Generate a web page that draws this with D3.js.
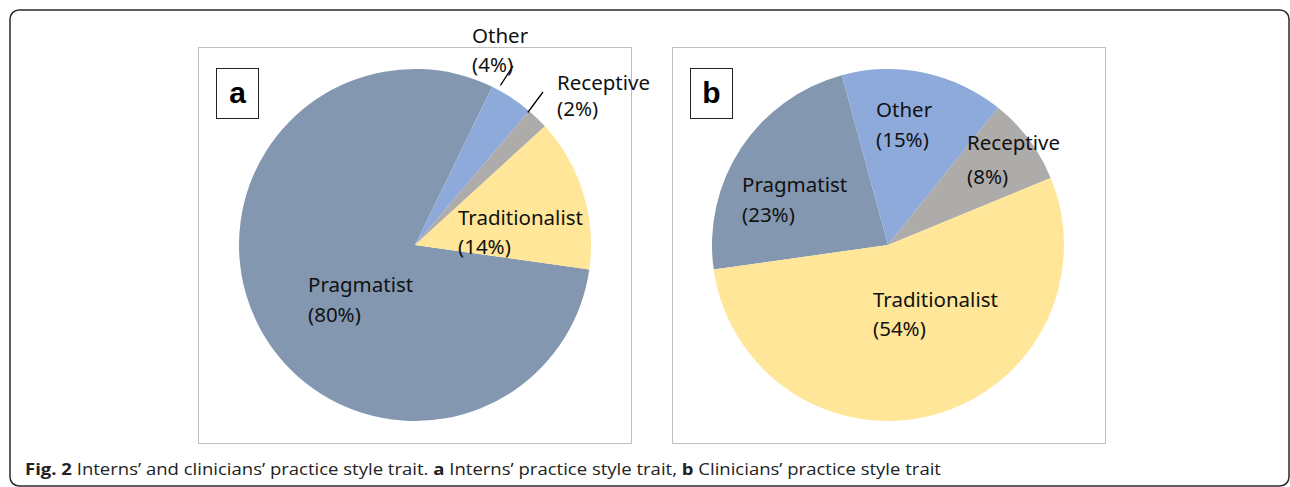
<!DOCTYPE html>
<html>
<head>
<meta charset="utf-8">
<script src="https://cdn.jsdelivr.net/npm/d3@7"></script>
<style>
  html, body { margin: 0; padding: 0; background: #fff; }
  svg { display: block; }
</style>
</head>
<body>
<div id="chart"></div>
<script>
// categories and values (percent)
var categories = ["Pragmatist", "Other", "Receptive", "Traditionalist"];
var internsValues = [80, 4, 2, 14];
var cliniciansValues = [23, 15, 8, 54];
var sliceColors = ["#8497b0", "#8eaadb", "#aeabab", "#ffe699"];
var panelLetters = ["a", "b"];
var captionParts = [
  { text: "Fig. 2", bold: true },
  { text: " Interns’ and clinicians’ practice style trait. ", bold: false },
  { text: "a", bold: true },
  { text: " Interns’ practice style trait, ", bold: false },
  { text: "b", bold: true },
  { text: " Clinicians’ practice style trait", bold: false }
];

var width = 1290;
var height = 487;
var radius = 176;
var labelFont = "'Noto Sans', 'Open Sans', sans-serif";

// layout of the two panels
var panels = [
  {
    values: internsValues,
    box: { x: 198, y: 47, w: 433, h: 396 },
    center: [415, 245],
    startDeg: 98,
    // label placement: [x, baseline of name, baseline of percent]
    labels: [[308, 292, 322], [472, 43, 72], [557, 90, 116], [458, 225, 254]],
    // leader lines: [fraction along slice, radius offset, end x, end y]
    leaders: [null, [0.15, 5, 513, 66], [0.0, -2, 543, 92], null]
  },
  {
    values: cliniciansValues,
    box: { x: 672, y: 47, w: 433, h: 396 },
    center: [888, 245],
    startDeg: -98,
    labels: [[742, 192, 222], [876, 117, 147], [967, 150, 184], [873, 307, 336]],
    leaders: [null, null, null, null]
  }
];

var svg = d3.select("#chart")
  .append("svg")
  .attr("width", width)
  .attr("height", height);

// outer figure frame
svg.append("rect")
  .attr("x", 10)
  .attr("y", 10)
  .attr("width", 1279)
  .attr("height", 476)
  .attr("rx", 9)
  .attr("fill", "none")
  .attr("stroke", "#2a2a2a")
  .attr("stroke-width", 1.5);

var color = d3.scaleOrdinal().domain(categories).range(sliceColors);
var arc = d3.arc().innerRadius(0).outerRadius(radius);

panels.forEach(function (p, pi) {
  var g = svg.append("g");

  g.append("rect")
    .attr("x", p.box.x + 0.5)
    .attr("y", p.box.y + 0.5)
    .attr("width", p.box.w)
    .attr("height", p.box.h)
    .attr("fill", "#fff")
    .attr("stroke", "#bfbfbf")
    .attr("stroke-width", 1);

  var start = p.startDeg * Math.PI / 180;
  var pie = d3.pie()
    .sort(null)
    .value(function (d) { return d; })
    .startAngle(start)
    .endAngle(start + 2 * Math.PI);

  var arcs = pie(p.values);

  g.append("g")
    .attr("transform", "translate(" + p.center[0] + "," + p.center[1] + ")")
    .selectAll("path")
    .data(arcs)
    .enter()
    .append("path")
    .attr("d", arc)
    .attr("fill", function (d, i) { return color(categories[i]); });

  // leader lines for the small slices
  arcs.forEach(function (d, i) {
    var l = p.leaders[i];
    if (!l) return;
    var a = d.startAngle + (d.endAngle - d.startAngle) * l[0];
    var r = radius + l[1];
    g.append("line")
      .attr("x1", p.center[0] + r * Math.sin(a))
      .attr("y1", p.center[1] - r * Math.cos(a))
      .attr("x2", l[2])
      .attr("y2", l[3])
      .attr("stroke", "#000")
      .attr("stroke-width", 1.3);
  });

  // slice labels
  arcs.forEach(function (d, i) {
    var lab = p.labels[i];
    var t = g.append("text")
      .attr("font-family", labelFont)
      .attr("font-size", "20.5px")
      .attr("fill", "#111");
    t.append("tspan").attr("x", lab[0]).attr("y", lab[1]).text(categories[i]);
    t.append("tspan").attr("x", lab[0]).attr("y", lab[2]).text("(" + p.values[i] + "%)");
  });

  // panel letter box
  var bx = p.box.x + 18;
  g.append("rect")
    .attr("x", bx + 0.5)
    .attr("y", 68.5)
    .attr("width", 42)
    .attr("height", 50)
    .attr("fill", "#fff")
    .attr("stroke", "#222")
    .attr("stroke-width", 1);
  g.append("text")
    .attr("x", bx + 21.5)
    .attr("y", 103)
    .attr("text-anchor", "middle")
    .attr("font-family", "'Liberation Sans', Arial, sans-serif")
    .attr("font-weight", "bold")
    .attr("font-size", "30px")
    .text(panelLetters[pi]);
});

// caption
var caption = svg.append("text")
  .attr("x", 25)
  .attr("y", 475)
  .attr("font-family", "'Open Sans', 'Noto Sans', sans-serif")
  .attr("font-size", "15.5px")
  .attr("fill", "#222");
caption.selectAll("tspan")
  .data(captionParts)
  .enter()
  .append("tspan")
  .attr("font-weight", function (d) { return d.bold ? "bold" : "normal"; })
  .text(function (d) { return d.text; });
caption.attr("textLength", 916).attr("lengthAdjust", "spacingAndGlyphs");
</script>
</body>
</html>
